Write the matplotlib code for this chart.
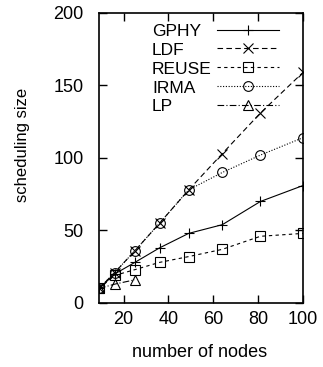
import numpy as np
import matplotlib
matplotlib.use('Agg')
import matplotlib.pyplot as plt

plt.rcParams['font.family'] = ['Liberation Sans', 'DejaVu Sans']

# number of nodes (x axis)
nodes = [9, 16, 25, 36, 49, 64, 81, 100]
lp_nodes = [9, 16, 25]

gphy = [10, 20, 28, 38, 48, 54, 70, 81]
ldf = [10, 21, 36, 55, 78, 103, 131, 159]
reuse = [10, 19, 23, 28, 32, 37, 46, 48]
irma = [10, 21, 36, 55, 78, 90, 102, 114]
lp = [10, 13, 16]

xticks = [20, 40, 60, 80, 100]
yticks = [0, 50, 100, 150, 200]


def plot():
    fig = plt.figure(figsize=(3.23, 3.67), dpi=100)
    ax = fig.add_axes([0.3065, 0.1744, 0.6315, 0.7902])

    mk = dict(color='black', lw=0.8, ms=7, mfc='none', mew=0.8)
    ax.plot(nodes, gphy, '-', marker='+', label='GPHY', **mk)
    ax.plot(nodes, ldf, marker='x', ls=(0, (5, 3)), label='LDF', **mk)
    ax.plot(nodes, reuse, marker='s', ls=(0, (3, 3)), label='REUSE', **mk)
    ax.plot(nodes, irma, marker='o', ls=(0, (1, 1.5)), label='IRMA', **mk)
    ax.plot(lp_nodes, lp, marker='^', ls=(0, (6, 2, 1, 2)), label='LP', **mk)

    ax.set_xlim(9, 100)
    ax.set_ylim(0, 200)
    ax.set_xticks(xticks)
    ax.set_yticks(yticks)
    ax.tick_params(direction='in', top=True, right=True, length=6, width=1,
                   labelsize=13)
    ax.tick_params(axis='x', pad=6)
    ax.tick_params(axis='y', pad=11)
    for s in ax.spines.values():
        s.set_linewidth(1.2)

    ax.set_xlabel('number of nodes', fontsize=13)
    ax.set_ylabel('scheduling size', fontsize=12)
    ax.xaxis.set_label_coords(0.495, -0.143)
    ax.yaxis.set_label_coords(-0.34, 0.545)

    leg = ax.legend(loc='upper left', bbox_to_anchor=(0.26, 0.964),
                    frameon=False, markerfirst=False, fontsize=12.5,
                    handlelength=3.6, handletextpad=0.3, borderpad=0,
                    borderaxespad=0, labelspacing=0.22)

    # left-justify the labels: grow the gap between text and sample
    fig.canvas.draw()
    r = fig.canvas.get_renderer()
    widths = [t.get_window_extent(r).width for t in leg.get_texts()]
    wmax = max(widths)
    column = leg._legend_handle_box.get_children()[0]
    for item, w in zip(column.get_children(), widths):
        item.sep = item.sep + (wmax - w) * 72.0 / fig.dpi

    fig.savefig('out.png', dpi=100)


if __name__ == "__main__":
    plot()
